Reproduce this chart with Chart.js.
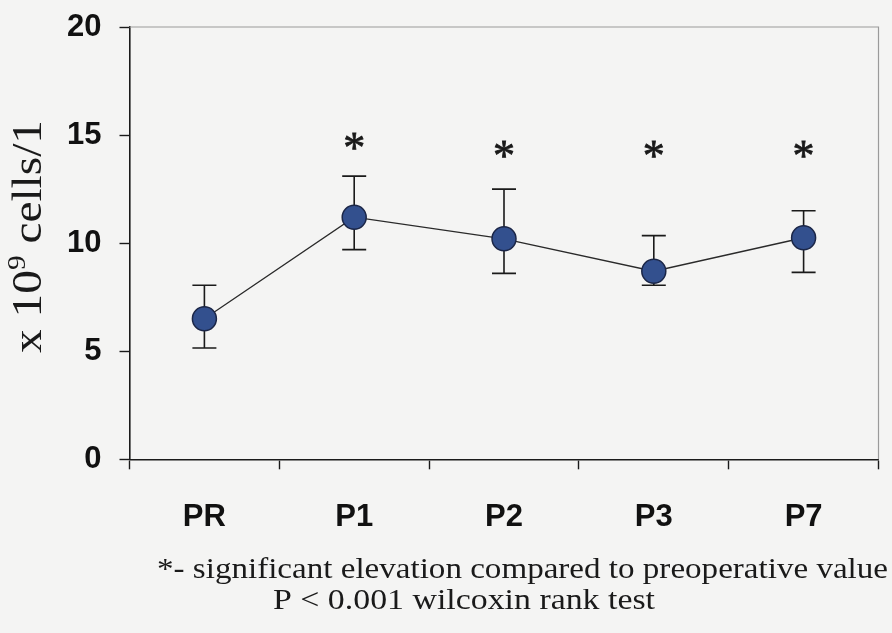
<!DOCTYPE html>
<html>
<head>
<meta charset="utf-8">
<script src="https://cdn.jsdelivr.net/npm/chart.js@4"></script>
<style>
  html, body { margin: 0; padding: 0; background: #f4f4f3; }
  #wrap { width: 892px; height: 633px; }
</style>
</head>
<body>
<div id="wrap"><canvas id="cellsChart" width="892" height="633"></canvas></div>
<script>
// days (PR = preoperative)
const labels = ["PR", "P1", "P2", "P3", "P7"];
const means = [6.5, 11.2, 10.2, 8.7, 10.25];
const upper = [8.05, 13.1, 12.5, 10.35, 11.5];
const lower = [5.15, 9.7, 8.6, 8.05, 8.65];
// significance marks and the level they sit at
const stars = ["", "*", "*", "*", "*"];
const starLevel = [0, 14.6, 14.25, 14.25, 14.25];
const yTicks = [0, 5, 10, 15, 20];

const serif = '"Liberation Serif", "Times New Roman", serif';
const sans = '"Liberation Sans", Arial, sans-serif';

// text squeezed/stretched to a given width
function fitText(ctx, text, x, y, w, font) {
    ctx.font = font;
    const m = ctx.measureText(text).width;
    ctx.save();
    ctx.translate(x, y);
    ctx.scale(w / m, 1);
    ctx.textAlign = "left";
    ctx.textBaseline = "alphabetic";
    ctx.fillText(text, 0, 0);
    ctx.restore();
}

const paperPlugin = {
    id: "paper",
    beforeDraw(chart) {
        const c = chart.ctx;
        c.save();
        c.fillStyle = "#f4f4f3";
        c.fillRect(0, 0, chart.width, chart.height);
        c.restore();
    },
    beforeDatasetsDraw(chart) {
        const c = chart.ctx;
        const a = chart.chartArea;
        const xs = chart.scales.x, ys = chart.scales.y;
        c.save();
        // grey frame on top and right
        c.strokeStyle = "#9a9a9a";
        c.lineWidth = 1.2;
        c.beginPath();
        c.moveTo(a.left, a.top);
        c.lineTo(a.right, a.top);
        c.lineTo(a.right, a.bottom);
        c.stroke();

        // error bars
        c.strokeStyle = "#1a1a1a";
        c.lineWidth = 1.6;
        for (let i = 0; i < labels.length; i++) {
            const x = xs.getPixelForValue(i);
            const yt = ys.getPixelForValue(upper[i]);
            const yb = ys.getPixelForValue(lower[i]);
            c.beginPath();
            c.moveTo(x, yt); c.lineTo(x, yb);
            c.moveTo(x - 12, yt); c.lineTo(x + 12, yt);
            c.moveTo(x - 12, yb); c.lineTo(x + 12, yb);
            c.stroke();
        }
        c.restore();
    },
    afterDraw(chart) {
        const c = chart.ctx;
        const xs = chart.scales.x, ys = chart.scales.y;
        c.save();
        c.fillStyle = "#1a1a1a";

        // asterisks
        const sz = 44;
        c.font = sz + "px " + serif;
        c.textAlign = "center";
        c.textBaseline = "alphabetic";
        c.strokeStyle = "#1a1a1a";
        c.lineWidth = 0.8;
        stars.forEach((s, i) => {
            if (!s) return;
            const x = xs.getPixelForValue(i);
            const y = ys.getPixelForValue(starLevel[i]) + sz * 0.42;
            c.fillText(s, x, y);
            c.strokeText(s, x, y);
        });

        // y title, rotated, with superscript 9
        c.save();
        c.translate(41, 353);
        c.rotate(-Math.PI / 2);
        const big = "42px " + serif, small = "26px " + serif;
        c.font = big; const w1 = c.measureText("x 10").width;
        c.font = small; const w2 = c.measureText("9").width;
        c.font = big; const w3 = c.measureText(" cells/1").width;
        const k = 233 / (w1 + w2 + w3);
        c.scale(k, 1);
        c.textAlign = "left";
        c.textBaseline = "alphabetic";
        c.font = big; c.fillText("x 10", 0, 0);
        c.font = small; c.fillText("9", w1, -16);
        c.font = big; c.fillText(" cells/1", w1 + w2, 0);
        c.restore();

        // footnote
        fitText(c, "*- significant elevation compared to preoperative value", 157, 578, 731, "30px " + serif);
        fitText(c, "P < 0.001 wilcoxin rank test", 273, 609, 382, "30px " + serif);
        c.restore();
    }
};

const ctx = document.getElementById("cellsChart").getContext("2d");

new Chart(ctx, {
    type: "line",
    data: {
        labels: labels,
        datasets: [{
            data: means,
            borderColor: "#2a2a2a",
            borderWidth: 1.3,
            tension: 0,
            pointRadius: 12,
            pointHoverRadius: 12,
            pointBackgroundColor: "#33508e",
            pointBorderColor: "#1b2647",
            pointBorderWidth: 1.5
        }]
    },
    options: {
        responsive: false,
        animation: false,
        devicePixelRatio: 1,
        layout: { padding: { top: 27, right: 6, left: 0, bottom: 0 } },
        plugins: {
            legend: { display: false },
            tooltip: { enabled: false }
        },
        scales: {
            x: {
                type: "category",
                offset: true,
                grid: {
                    offset: true,
                    drawOnChartArea: false,
                    drawTicks: true,
                    tickLength: 10,
                    tickWidth: 1.4,
                    tickColor: "#1a1a1a"
                },
                border: { color: "#1a1a1a", width: 1.6 },
                ticks: {
                    color: "#111",
                    font: { family: sans, size: 31, weight: "bold" },
                    padding: 30,
                    maxRotation: 0
                },
                afterFit: function (s) {
                    s.height = 173.7;
                    s.paddingLeft = 0;
                    s.paddingRight = 0;
                }
            },
            y: {
                min: 0,
                max: 20,
                afterBuildTicks: function (s) {
                    s.ticks = yTicks.map(v => ({ value: v }));
                },
                grid: {
                    drawOnChartArea: false,
                    drawTicks: true,
                    tickLength: 10,
                    tickWidth: 1.4,
                    tickColor: "#1a1a1a"
                },
                border: { color: "#1a1a1a", width: 1.6 },
                ticks: {
                    color: "#111",
                    font: { family: sans, size: 31, weight: "bold" },
                    padding: 18
                },
                afterFit: function (s) {
                    s.width = 129.5;
                    s.paddingTop = 0;
                    s.paddingBottom = 0;
                }
            }
        }
    },
    plugins: [paperPlugin]
});
</script>
</body>
</html>
